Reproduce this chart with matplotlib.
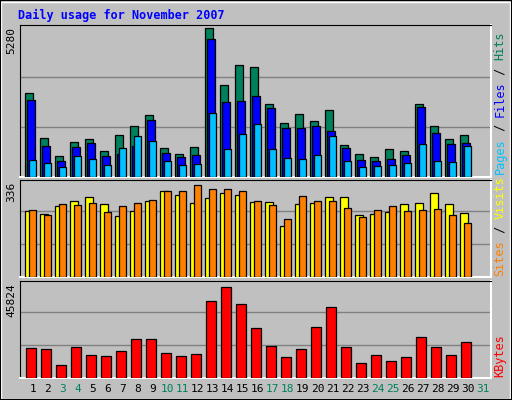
import matplotlib
matplotlib.use("Agg")
import matplotlib.pyplot as plt
from matplotlib.patches import Rectangle

days = list(range(1, 31))
weekend_days = [3, 4, 10, 11, 17, 18, 24, 25, 31]
hits = [2972,1367,761,1225,1332,904,1474,1795,2188,1011,832,1046,5280,3258,3971,3900,2580,1902,2223,1974,2366,1118,832,725,975,904,2580,1795,1332,1474]
files = [2723,1082,583,1046,1189,761,832,1082,2009,868,725,797,4899,2651,2687,2865,2437,1724,1724,1795,1617,1011,618,583,654,797,2473,1546,1153,1189]
pages = [618,511,369,761,654,440,1011,1439,1260,583,440,476,2259,975,1510,1867,975,690,654,797,1439,583,369,404,440,511,1153,583,547,1082]
sites = [241,230,259,277,292,267,223,241,277,314,299,270,288,307,299,274,274,186,267,270,292,292,226,230,237,267,270,307,267,234]
visits = [245,226,267,263,270,237,259,270,281,314,314,336,321,321,314,277,263,212,296,277,277,252,219,245,259,241,245,248,226,197]
kbytes = [15215,14714,6688,15717,11704,11202,13710,19730,19730,12707,11202,12206,38790,45824,37286,25247,16218,10701,14714,25749,35781,15717,7691,11704,8694,10701,20733,15717,11704,18225]

W, H = 512, 400
fig = plt.figure(figsize=(W/100, H/100), dpi=100)
fig.patch.set_facecolor("#c0c0c0")
mono = "DejaVu Sans Mono"

def px_axes(x0, y0, x1, y1):
    ax = fig.add_axes([x0/W, 1-y1/H, (x1-x0)/W, (y1-y0)/H])
    ax.set_facecolor("#c0c0c0")
    ax.set_xlim(-0.35, 31.05)
    ax.set_xticks([]); ax.set_yticks([])
    for s in ["left", "top"]:
        ax.spines[s].set_color("black")
    for s in ["right", "bottom"]:
        ax.spines[s].set_color("white")
        ax.spines[s].set_linewidth(1.5)
    return ax

def bars(ax, vals, off, w, color):
    ax.bar([d-1+off for d in days], vals, width=w, align="edge", color=color,
           edgecolor="black", linewidth=0.9, zorder=3)

def grid(ax, top):
    for f in (1/3, 2/3):
        ax.axhline(top*f, color="#808080", lw=1, zorder=1)

# outer frame
fig.add_artist(Rectangle((1/W, 1/H), 1-3/W, 1-3/H, transform=fig.transFigure,
                         fill=False, edgecolor="white", lw=1))
fig.add_artist(Rectangle((0, 0), 1, 1, transform=fig.transFigure,
                         fill=False, edgecolor="black", lw=1.5))

fig.text(18/W, 1-15/H, "Daily usage for November 2007", color="#0000ff",
         fontsize=8.5, fontweight="bold", family=mono, va="center", ha="left")

# panel 1
ax1 = px_axes(20, 25, 491, 177)
top1 = max(hits)
ax1.set_ylim(0, top1*151/148)
grid(ax1, top1*151/148 * 0.99)
bars(ax1, hits, 0.0, 0.5, "#00805c")
bars(ax1, files, 0.13, 0.5, "#0000ff")
bars(ax1, pages, 0.27, 0.47, "#00c0ff")

# panel 2
ax2 = px_axes(20, 180, 491, 277)
top2 = max(visits)
ax2.set_ylim(0, top2*97/92)
grid(ax2, top2*97/92*1.02)
bars(ax2, sites, 0.0, 0.5, "#ffff00")
bars(ax2, visits, 0.27, 0.47, "#ff8000")

# panel 3
ax3 = px_axes(20, 281, 491, 378)
top3 = max(kbytes)
ax3.set_ylim(0, top3*97/91)
grid(ax3, top3*97/91*1.02)
bars(ax3, kbytes, 0.07, 0.66, "#ff0000")

# left max labels
for y, v in [(25, top1), (180, top2), (281, top3)]:
    fig.text(11/W, 1-(y+2)/H, str(v), rotation=90, family=mono, fontsize=8,
             va="top", ha="center")

# right labels
adv = 7.1
def right_label(bottom_y, parts):
    y = bottom_y
    for txt, col in parts:
        fig.text(500/W, 1-y/H, txt, rotation=90, family=mono, fontsize=8.6,
                 color=col, va="bottom", ha="center")
        y -= adv*len(txt)
right_label(174, [("Pages", "#00c0ff"), (" / ", "black"), ("Files", "#0000ff"),
                  (" / ", "black"), ("Hits", "#00805c")])
right_label(276, [("Sites", "#ff8000"), (" / ", "black"), ("Visits", "#ffff00")])
right_label(377, [("KBytes", "#ff0000")])

# day labels
for d in range(1, 32):
    x = 20 + (d - 1 + 0.35 + 0.5) * 471/31.4
    fig.text(x/W, 1-389/H, str(d), family=mono, fontsize=8,
             color="#00805c" if d in weekend_days else "black",
             ha="center", va="center")

fig.savefig("out.png", dpi=100, facecolor=fig.get_facecolor())
